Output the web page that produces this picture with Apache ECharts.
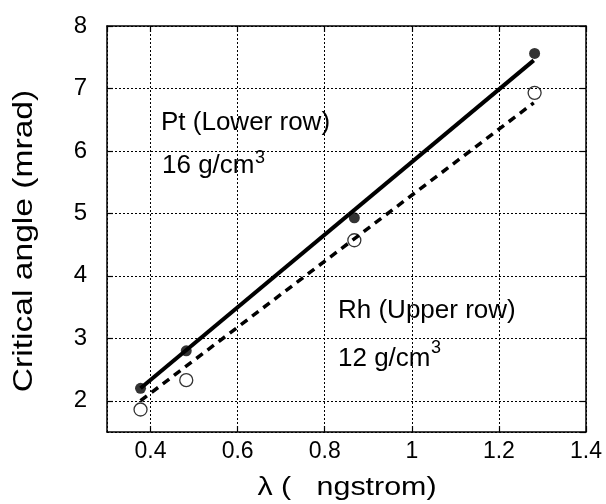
<!DOCTYPE html>
<html>
<head>
<meta charset="utf-8">
<script src="https://cdn.jsdelivr.net/npm/echarts@6/dist/echarts.min.js"></script>
<style>
  html, body { margin: 0; padding: 0; background: #fff; }
  #chart { width: 606px; height: 504px; }
</style>
</head>
<body>
<div id="chart"></div>
<script>
// wavelength of each measurement (angstrom)
const wavelengths = [0.377, 0.482, 0.868, 1.282]
// critical angle, Pt (lower row) and Rh (upper row)
const ptAngle = [2.2, 2.8, 4.93, 7.56]
const rhAngle = [1.86, 2.33, 4.57, 6.93]

// fitted straight lines (end points)
const fitX = [0.377, 1.28]
const ptFit = [2.2, 7.45]
const rhFit = [2.0, 6.77]

const xRange = [0.3, 1.4]
const yRange = [1.5, 8]

const font = 'Liberation Sans, Arial, sans-serif'

const pairs = (xs, ys) => xs.map((x, i) => [x, ys[i]])

const chart = echarts.init(document.getElementById('chart'))

const dotted = { show: true, lineStyle: { color: '#000', width: 1, type: [2, 2] } }
const boxLine = { show: true, onZero: false, lineStyle: { color: '#000', width: 1.5 } }
const inTick = { show: true, inside: true, length: 6, lineStyle: { color: '#000', width: 1.2 } }

chart.setOption({
  animation: false,
  backgroundColor: '#fff',
  grid: { left: 107, right: 20, top: 26, bottom: 72 },
  xAxis: [
    {
      type: 'value',
      min: xRange[0],
      max: xRange[1],
      axisLine: boxLine,
      axisTick: inTick,
      splitLine: dotted,
      axisLabel: { showMinLabel: false, color: '#000', fontSize: 23, fontFamily: font, margin: 8 }
    },
    {
      type: 'value',
      position: 'top',
      min: xRange[0],
      max: xRange[1],
      axisLine: boxLine,
      axisTick: inTick,
      splitLine: { show: false },
      axisLabel: { show: false }
    }
  ],
  yAxis: [
    {
      type: 'value',
      min: yRange[0],
      max: yRange[1],
      axisLine: boxLine,
      axisTick: inTick,
      splitLine: dotted,
      axisLabel: { showMinLabel: false, color: '#000', fontSize: 24, fontFamily: font, margin: 20 }
    },
    {
      type: 'value',
      position: 'right',
      min: yRange[0],
      max: yRange[1],
      axisLine: boxLine,
      axisTick: inTick,
      splitLine: { show: false },
      axisLabel: { show: false }
    }
  ],
  series: [
    {
      name: 'Pt fit',
      type: 'line',
      data: pairs(fitX, ptFit),
      symbol: 'none',
      lineStyle: { color: '#000', width: 4 },
      z: 2
    },
    {
      name: 'Rh fit',
      type: 'line',
      data: pairs(fitX, rhFit),
      symbol: 'none',
      lineStyle: { color: '#000', width: 3.5, type: [8, 6] },
      z: 2
    },
    {
      name: 'Pt',
      type: 'scatter',
      data: pairs(wavelengths, ptAngle),
      symbol: 'circle',
      symbolSize: 11,
      itemStyle: { color: '#000' },
      z: 3
    },
    {
      name: 'Rh',
      type: 'scatter',
      data: pairs(wavelengths, rhAngle),
      symbol: 'circle',
      symbolSize: 13,
      itemStyle: { color: 'rgba(255,255,255,0)', borderColor: '#000', borderWidth: 1.3 },
      z: 3
    }
  ],
  graphic: [
    {
      type: 'text', x: 24, y: 241, rotation: Math.PI / 2, scaleX: 1.2,
      style: { text: 'Critical angle (mrad)', font: '28px ' + font, fill: '#000', align: 'center', verticalAlign: 'middle' }
    },
    {
      type: 'text', x: 347, y: 488, scaleX: 1.17,
      style: { text: 'λ (   ngstrom)', font: '26px ' + font, fill: '#000', align: 'center', verticalAlign: 'middle' }
    },
    {
      type: 'text', x: 161, y: 123,
      style: { text: 'Pt (Lower row)', font: '26px ' + font, fill: '#000', align: 'left', verticalAlign: 'middle' }
    },
    {
      type: 'text', x: 162, y: 166,
      style: { text: '16 g/cm', font: '26px ' + font, fill: '#000', align: 'left', verticalAlign: 'middle' }
    },
    {
      type: 'text', x: 255, y: 158,
      style: { text: '3', font: '18px ' + font, fill: '#000', align: 'left', verticalAlign: 'middle' }
    },
    {
      type: 'text', x: 338, y: 311,
      style: { text: 'Rh (Upper row)', font: '26px ' + font, fill: '#000', align: 'left', verticalAlign: 'middle' }
    },
    {
      type: 'text', x: 338, y: 359,
      style: { text: '12 g/cm', font: '26px ' + font, fill: '#000', align: 'left', verticalAlign: 'middle' }
    },
    {
      type: 'text', x: 431, y: 348,
      style: { text: '3', font: '18px ' + font, fill: '#000', align: 'left', verticalAlign: 'middle' }
    }
  ]
})
</script>
</body>
</html>
